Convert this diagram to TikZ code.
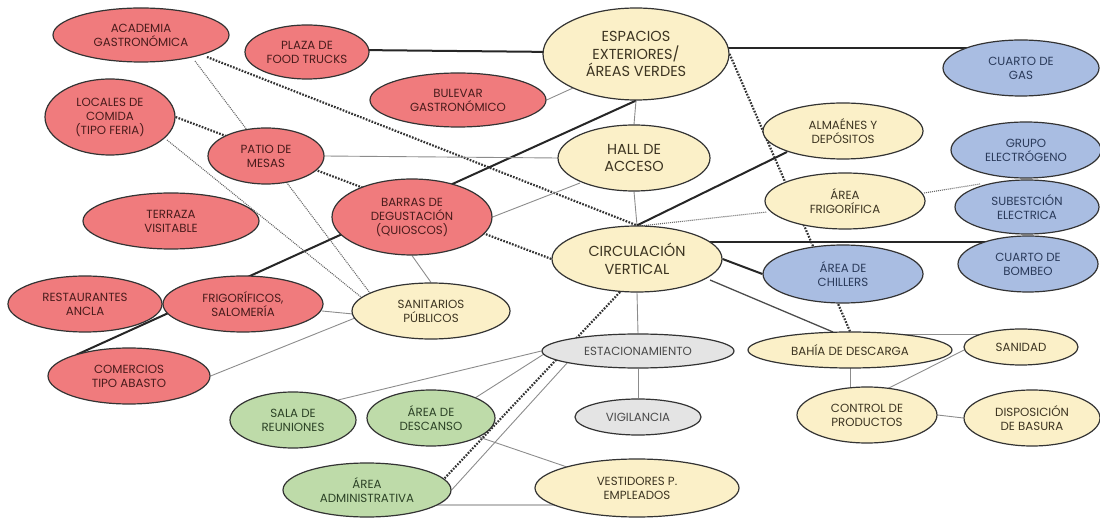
\documentclass[tikz,border=0pt]{standalone}
\usepackage{fontspec}
\setmainfont{Poppins}
\usetikzlibrary{shapes.geometric,backgrounds}
\definecolor{redf}{HTML}{F07B7D}
\definecolor{redt}{HTML}{4A1C1C}
\definecolor{crf}{HTML}{FBF0C8}
\definecolor{crt}{HTML}{3D3522}
\definecolor{blf}{HTML}{A9BDE2}
\definecolor{blt}{HTML}{2A3A5A}
\definecolor{grf}{HTML}{BEDBA9}
\definecolor{grt}{HTML}{2C4226}
\definecolor{gyf}{HTML}{E4E4E4}
\definecolor{gyt}{HTML}{4A4A4A}
\begin{document}
\begin{tikzpicture}[x=1pt,y=-1pt,
  nd/.style={ellipse,draw=black!80,line width=1.2pt,inner sep=0pt,align=center,font=\fontsize{11.8}{14}\selectfont},
  big/.style={font=\fontsize{14.5}{17.5}\selectfont},
  sz/.style 2 args={minimum width=#1pt,minimum height=#2pt},
  rn/.style={nd,fill=redf,text=redt},
  cn/.style={nd,fill=crf,text=crt},
  bn/.style={nd,fill=blf,text=blt},
  gn/.style={nd,fill=grf,text=grt},
  yn/.style={nd,fill=gyf,text=gyt},
  thk/.style={line width=2pt,draw=black!85},
  med/.style={line width=1.3pt,draw=black!70},
  thn/.style={line width=0.9pt,draw=black!45},
  lgt/.style={line width=1.5pt,draw=black!25},
  dth/.style={line width=2.2pt,draw=black!80,dash pattern=on 1.7pt off 1.4pt},
  dtn/.style={line width=1.1pt,draw=black!60,dash pattern=on 1pt off 1pt},
]
\useasboundingbox (0,0) rectangle (1100,518);
% nodes
\node[rn,sz={176}{54}] (aca) at (141,35) {ACADEMIA\\GASTRONÓMICA};
\node[rn,sz={124}{54}] (pft) at (307,52) {PLAZA DE\\FOOD TRUCKS};
\node[rn,sz={176}{54}] (bul) at (458,100) {BULEVAR\\GASTRONÓMICO};
\node[cn,big,sz={186}{92}] (esp) at (636,54) {ESPACIOS\\EXTERIORES/\\ÁREAS VERDES};
\node[bn,sz={156}{56}] (gas) at (1021,68) {CUARTO DE\\GAS};
\node[rn,sz={130}{76}] (loc) at (110,117) {LOCALES DE\\COMIDA\\(TIPO FERIA)};
\node[rn,sz={116}{56}] (pat) at (266,156) {PATIO DE\\MESAS};
\node[cn,big,sz={152}{66}] (hal) at (634,158) {HALL DE\\ACCESO};
\node[cn,sz={160}{56}] (alm) at (843,131) {ALMAÉNES Y\\DEPÓSITOS};
\node[bn,sz={150}{56}] (gru) at (1026,150) {GRUPO\\ELECTRÓGENO};
\node[bn,sz={144}{54}] (sub) at (1027,207) {SUBESTCIÓN\\ELECTRICA};
\node[cn,sz={160}{56}] (fri) at (845,201) {ÁREA\\FRIGORÍFICA};
\node[rn,sz={176}{56}] (ter) at (171,221) {TERRAZA\\VISITABLE};
\node[rn,sz={160}{76}] (bar) at (412,217) {BARRAS DE\\DEGUSTACIÓN\\(QUIOSCOS)};
\node[cn,big,sz={170}{66}] (cir) at (637,259) {CIRCULACIÓN\\VERTICAL};
\node[bn,sz={140}{56}] (bom) at (1028,264) {CUARTO DE\\BOMBEO};
\node[bn,sz={160}{58}] (chi) at (843,274) {ÁREA DE\\CHILLERS};
\node[rn,sz={154}{56}] (res) at (85,304) {RESTAURANTES\\ANCLA};
\node[rn,sz={160}{56}] (frs) at (243,304) {FRIGORÍFICOS,\\SALOMERÍA};
\node[cn,sz={158}{56}] (san) at (431,311) {SANITARIOS\\PÚBLICOS};
\node[rn,sz={162}{56}] (com) at (129,376) {COMERCIOS\\TIPO ABASTO};
\node[yn,sz={192}{34}] (est) at (638,351) {ESTACIONAMIENTO};
\node[cn,sz={204}{36}] (bah) at (850,350) {BAHÍA DE DESCARGA};
\node[cn,sz={114}{36}] (sdd) at (1021,347) {SANIDAD};
\node[gn,sz={126}{56}] (sal) at (293,420) {SALA DE\\REUNIONES};
\node[gn,sz={128}{56}] (des) at (431,418) {ÁREA DE\\DESCANSO};
\node[yn,sz={126}{36}] (vig) at (638,417) {VIGILANCIA};
\node[cn,sz={140}{56}] (con) at (867,415) {CONTROL DE\\PRODUCTOS};
\node[cn,sz={136}{56}] (dis) at (1032,418) {DISPOSICIÓN\\DE BASURA};
\node[gn,sz={168}{54}] (adm) at (367,490) {ÁREA\\ADMINISTRATIVA};
\node[cn,sz={204}{58}] (ves) at (637,488) {VESTIDORES P.\\EMPLEADOS};
% connectors
\begin{pgfonlayer}{background}
\draw[thk] ([shift={(50,-2)}]pft.center) -- ([shift={(-80,-2)}]esp.center);
\draw[thk] ([shift={(0,-6)}]esp.center) -- ([shift={(0,-20)}]gas.center);
\draw[thk] (esp.south) -- ([shift={(-53,-21)}]com.center);
\draw[thn] (esp.south) -- (hal.north);
\draw[thn] (hal.south) -- (cir.north);
\draw[dth] (esp.east) -- (bah.north);
\draw[thk] (cir.north) -- ([shift={(-56,21)}]alm.center);
\draw[dtn] ([shift={(3,-33)}]cir.center) -- ([shift={(-78,11)}]fri.center);
\draw[dtn] ([shift={(79,-8)}]fri.center) -- ([shift={(-47,-23)}]sub.center);
\draw[thk] ([shift={(0,-17)}]cir.center) -- ([shift={(0,-22)}]bom.center);
\draw[thk] (cir.east) -- (chi.west);
\draw[med] ([shift={(73,21)}]cir.center) -- ([shift={(-17,-18)}]bah.center);
\draw[thn] (cir.south) -- (est.north);
\draw[dth] ([shift={(-17,33)}]cir.center) -- ([shift={(76,-10)}]adm.center);
\draw[dth] (loc.east) -- (cir.west);
\draw[dth] ([shift={(66,22)}]aca.center) -- (cir.north);
\draw[dtn] ([shift={(54,26)}]aca.center) -- ([shift={(-61,-18)}]san.center);
\draw[dtn] ([shift={(57,23)}]loc.center) -- ([shift={(-70,-14)}]san.center);
\draw[thn] (pat.east) -- (hal.west);
\draw[thn] (bar.east) -- ([shift={(-54,25)}]hal.center);
\draw[thn] (bar.south) -- (san.north);
\draw[thn] (bul.east) -- ([shift={(-63,34)}]esp.center);
\draw[thn] ([shift={(79,7)}]frs.center) -- ([shift={(-78,3)}]san.center);
\draw[thn] (com.east) -- ([shift={(-76,7)}]san.center);
\draw[thn] (est.west) -- ([shift={(45,-20)}]sal.center);
\draw[thn] ([shift={(-94,3)}]est.center) -- ([shift={(44,-20)}]des.center);
\draw[thn] ([shift={(-70,11)}]est.center) -- (adm.east);
\draw[thn] (est.south) -- (vig.north);
\draw[thn] ([shift={(48,19)}]des.center) -- ([shift={(-70,-21)}]ves.center);
\draw[lgt] ([shift={(0,15)}]adm.center) -- ([shift={(0,17)}]ves.center);
\draw[thn] (bah.center) -- ([shift={(-17,0)}]con.center);
\draw[thn] ([shift={(30,-16)}]bah.center) -- ([shift={(-40,-13)}]sdd.center);
\draw[thn] ([shift={(20,-26)}]con.center) -- ([shift={(-51,0)}]sdd.center);
\draw[thn] (con.east) -- (dis.west);
\end{pgfonlayer}
\end{tikzpicture}
\end{document}
